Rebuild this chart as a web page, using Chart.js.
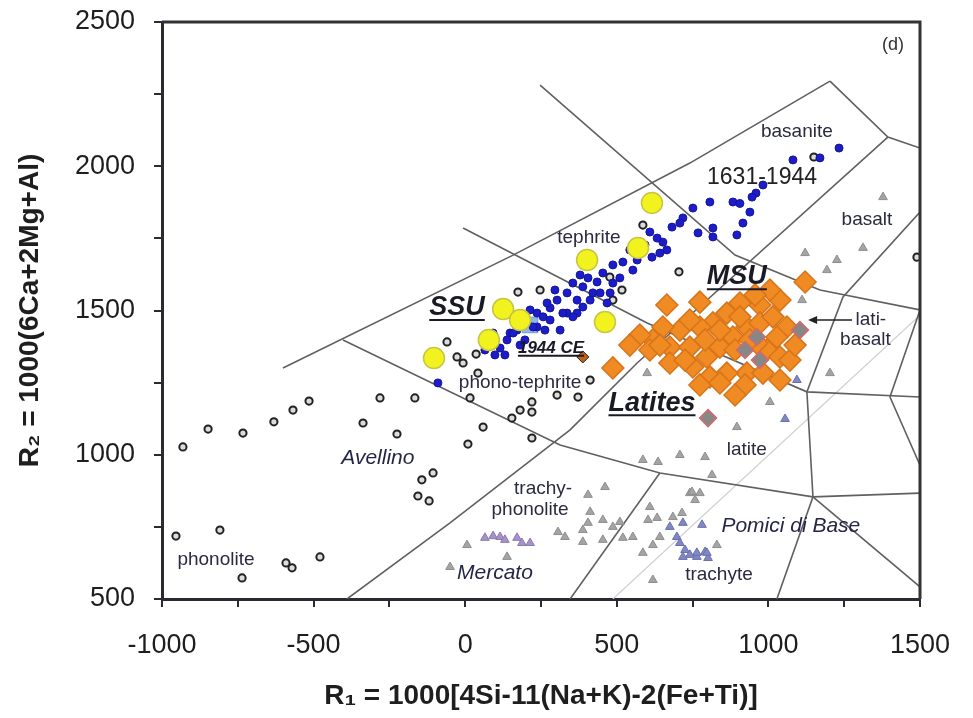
<!DOCTYPE html>
<html>
<head>
<meta charset="utf-8">
<script src="https://cdn.jsdelivr.net/npm/chart.js@4.4.1/dist/chart.umd.min.js"></script>
<style>
  html, body { margin: 0; padding: 0; background: #fff; }
  canvas { display: block; }
</style>
</head>
<body>
<canvas id="chart" width="973" height="718"></canvas>
<script>
// --- field boundaries of the R1-R2 diagram, [R1, R2] vertices ---
const upperBoundary = [[-601, 1301], [158, 1692], [741, 2011], [1203, 2295]];
const topRight = [[1203, 2295], [1394, 2101], [1500, 2063]];
const longDiagonal = [[1394, 2101], [567, 1318], [346, 1086], [-50, 764], [-390, 500]];
const tephriteLine = [[247, 2281], [890, 1692], [1170, 1571], [1500, 1502]];
const phonoTephriteTop = [[-7, 1786], [600, 1457], [1127, 1218], [1500, 1200]];
const phonoTephriteBase = [[-403, 1398], [313, 1034], [642, 937], [1147, 854], [1500, 867]];
const trachyteLeft = [[642, 937], [346, 500]];
const latiteRight = [[1500, 1841], [1246, 1547], [1127, 1218], [1147, 854], [1028, 500]];
const basaltRight = [[1500, 1502], [1401, 1200], [1500, 964]];
const trachyteRight = [[1147, 854], [1500, 542]];
const faintLine = [[487, 500], [1500, 1484]];

// --- samples ---
const openCircles = [
  [-931, 1027], [-848, 1089], [-733, 1075], [-631, 1114], [-568, 1155], [-515, 1186],
  [-281, 1197], [-166, 1197], [-337, 1110], [-225, 1072], [16, 1197], [59, 1096], [9, 1037],
  [-143, 913], [-106, 937], [-156, 857], [-119, 840], [-954, 718], [-809, 739], [-736, 573],
  [-591, 625], [-571, 608], [-479, 646], [-60, 1391], [-27, 1339], [-7, 1318], [36, 1349],
  [42, 1283], [174, 1564], [247, 1571], [154, 1127], [181, 1155], [220, 1183], [220, 1148],
  [220, 1058], [303, 1207], [372, 1200], [412, 1259], [586, 1796], [705, 1634], [1150, 2032],
  [1490, 1685], [477, 1616], [517, 1571], [487, 1536]
];
const blueDots = [
  [1233, 2063], [1081, 2022], [1170, 2029], [982, 1935], [959, 1907], [946, 1893], [807, 1876],
  [883, 1876], [906, 1871], [751, 1855], [939, 1841], [916, 1803], [896, 1762], [817, 1786],
  [817, 1755], [768, 1769], [718, 1821], [708, 1803], [682, 1789], [652, 1737], [665, 1710],
  [633, 1751], [609, 1772], [642, 1699], [616, 1685], [567, 1675], [553, 1640], [520, 1668],
  [487, 1658], [454, 1630], [510, 1613], [487, 1595], [435, 1599], [405, 1613], [388, 1582],
  [421, 1561], [369, 1536], [336, 1561], [303, 1536], [280, 1509], [237, 1491], [280, 1467],
  [336, 1491], [369, 1491], [388, 1512], [445, 1561], [478, 1561], [468, 1526], [237, 1443],
  [204, 1457], [171, 1432], [148, 1422], [138, 1398], [270, 1526], [355, 1595], [322, 1491],
  [355, 1478], [257, 1478], [224, 1443], [158, 1422], [115, 1370], [92, 1422], [-90, 1249],
  [313, 1432], [263, 1432], [412, 1536], [197, 1398], [181, 1380], [98, 1346], [131, 1346],
  [65, 1363], [214, 1502], [296, 1571], [379, 1623], [543, 1710], [593, 1727]
];
const ssuCircles = [
  [616, 1873], [570, 1717], [402, 1675], [125, 1505], [181, 1467], [78, 1398], [461, 1460], [-103, 1335]
];
const ce1944 = [[214, 1450]];
const ce1944Dark = [[388, 1339]];
const msuDiamonds = [
  [665, 1519], [1121, 1599], [1038, 1536], [972, 1519], [906, 1526], [863, 1491], [817, 1457],
  [774, 1443], [708, 1432], [652, 1443], [619, 1398], [609, 1363], [675, 1373], [741, 1373],
  [675, 1318], [751, 1304], [797, 1339], [840, 1373], [883, 1408], [929, 1443], [972, 1457],
  [1015, 1478], [1061, 1443], [1028, 1408], [995, 1363], [1038, 1339], [1071, 1328], [929, 1283],
  [863, 1283], [807, 1270], [840, 1249], [982, 1283], [487, 1301], [906, 1478], [962, 1387],
  [774, 1529], [741, 1467], [840, 1432], [939, 1398], [890, 1363], [791, 1398], [725, 1328],
  [642, 1380], [576, 1415], [543, 1380], [774, 1242], [923, 1242], [890, 1207], [1038, 1259],
  [1088, 1380], [1005, 1571], [956, 1554]
];
const latiteDiamonds = [[1104, 1432], [962, 1408], [972, 1328], [923, 1363], [801, 1127]];
const greyTriangles = [
  [600, 1283], [1005, 1183], [586, 982], [636, 975], [708, 999], [791, 992], [814, 930],
  [461, 888], [405, 861], [741, 867], [774, 867], [758, 843], [412, 802], [405, 764], [454, 774],
  [510, 767], [388, 739], [306, 732], [329, 715], [388, 698], [454, 705], [520, 712], [609, 819],
  [603, 774], [633, 781], [685, 784], [715, 798], [553, 715], [586, 660], [619, 687], [642, 715],
  [830, 687], [619, 566], [1203, 1283], [1378, 1893], [1312, 1717], [1226, 1675], [1193, 1640],
  [1111, 1536], [1121, 1699], [896, 1096], [487, 750], [748, 871], [6, 687], [138, 646], [-50, 611]
];
const pomiciTriangles = [
  [675, 750], [698, 715], [708, 694], [725, 670], [741, 653], [764, 646], [791, 663], [801, 642],
  [718, 764], [781, 757], [797, 660], [718, 646], [764, 660], [1055, 1124], [1094, 1259]
];
const mercatoTriangles = [[65, 712], [92, 718], [115, 715], [131, 705], [171, 712], [187, 694], [214, 694]];

// --- axes ---
const xTicks = [-1000, -500, 0, 500, 1000, 1500];
const yTicks = [500, 1000, 1500, 2000, 2500];

// --- annotations [text, R1, R2, kind] ---
const annotations = [
  ['basanite', 1094, 2119, 'field'],
  ['1631-1944', 979, 1959, 'years'],
  ['tephrite', 408, 1751, 'field'],
  ['basalt', 1325, 1814, 'field'],
  ['MSU', 896, 1616, 'unit'],
  ['SSU', -27, 1509, 'unit'],
  ['1944 CE', 283, 1370, 'unitSmall'],
  ['phono-tephrite', 181, 1249, 'field'],
  ['lati-', 1338, 1467, 'field'],
  ['basalt', 1320, 1398, 'field'],
  ['Latites', 616, 1179, 'unit'],
  ['latite', 929, 1017, 'field'],
  ['Avellino', -288, 989, 'eruption'],
  ['trachy-', 257, 881, 'field'],
  ['phonolite', 214, 809, 'field'],
  ['Pomici di Base', 1074, 753, 'eruption'],
  ['trachyte', 837, 583, 'field'],
  ['Mercato', 98, 590, 'eruption'],
  ['phonolite', -822, 635, 'field'],
  ['(d)', 1411, 2420, 'panel']
];
const latiArrow = [[1276, 1467], [1131, 1467]];

const FONT = "'Liberation Sans', Arial, sans-serif";
const labelStyles = {
  field: { font: `19px ${FONT}`, color: '#2a2a40' },
  years: { font: `23px ${FONT}`, color: '#222' },
  eruption: { font: `italic 21px ${FONT}`, color: '#25254a' },
  unit: { font: `italic bold 27px ${FONT}`, color: '#1a1a26', underline: true },
  unitSmall: { font: `italic bold 17px ${FONT}`, color: '#1a1a26', underline: true },
  panel: { font: `18px ${FONT}`, color: '#333' }
};

const toPts = arr => arr.map(([x, y]) => ({ x, y }));

function boundary(arr, color, width) {
  return {
    data: toPts(arr), showLine: true, borderColor: color, borderWidth: width,
    pointRadius: 0, pointHoverRadius: 0, fill: false, order: 20
  };
}

function markers(arr, style, radius, fill, stroke, width, order) {
  return {
    data: toPts(arr), showLine: false, pointStyle: style, pointRadius: radius,
    backgroundColor: fill, borderColor: stroke, borderWidth: width, order: order
  };
}

const overlay = {
  id: 'overlay',
  afterDatasetsDraw(chart) {
    const { ctx, chartArea, scales: { x, y } } = chart;
    ctx.save();
    // top and right frame
    ctx.strokeStyle = '#333';
    ctx.lineWidth = 3;
    ctx.beginPath();
    ctx.moveTo(chartArea.left, chartArea.top);
    ctx.lineTo(chartArea.right, chartArea.top);
    ctx.lineTo(chartArea.right, chartArea.bottom);
    ctx.stroke();

    ctx.textAlign = 'center';
    ctx.textBaseline = 'middle';
    annotations.forEach(([text, vx, vy, kind]) => {
      const s = labelStyles[kind];
      const px = x.getPixelForValue(vx);
      const py = y.getPixelForValue(vy);
      ctx.font = s.font;
      ctx.fillStyle = s.color;
      ctx.fillText(text, px, py);
      if (s.underline) {
        const w = ctx.measureText(text).width;
        const size = parseInt(s.font.match(/(\d+)px/)[1], 10);
        ctx.strokeStyle = s.color;
        ctx.lineWidth = 2;
        ctx.beginPath();
        ctx.moveTo(px - w / 2, py + size * 0.45);
        ctx.lineTo(px + w / 2, py + size * 0.45);
        ctx.stroke();
      }
    });

    // arrow to lati-basalt
    const ax0 = x.getPixelForValue(latiArrow[0][0]);
    const ax1 = x.getPixelForValue(latiArrow[1][0]);
    const ay = y.getPixelForValue(latiArrow[0][1]);
    ctx.strokeStyle = '#222';
    ctx.fillStyle = '#222';
    ctx.lineWidth = 1.5;
    ctx.beginPath();
    ctx.moveTo(ax0, ay);
    ctx.lineTo(ax1 + 6, ay);
    ctx.stroke();
    ctx.beginPath();
    ctx.moveTo(ax1, ay);
    ctx.lineTo(ax1 + 9, ay - 4);
    ctx.lineTo(ax1 + 9, ay + 4);
    ctx.closePath();
    ctx.fill();
    ctx.restore();
  }
};

const lineColor = '#606060';

new Chart(document.getElementById('chart'), {
  type: 'scatter',
  data: {
    datasets: [
      boundary(upperBoundary, lineColor, 1.6),
      boundary(topRight, lineColor, 1.6),
      boundary(longDiagonal, lineColor, 1.6),
      boundary(tephriteLine, lineColor, 1.6),
      boundary(phonoTephriteTop, lineColor, 1.6),
      boundary(phonoTephriteBase, lineColor, 1.6),
      boundary(trachyteLeft, lineColor, 1.6),
      boundary(latiteRight, lineColor, 1.6),
      boundary(basaltRight, lineColor, 1.6),
      boundary(trachyteRight, lineColor, 1.6),
      boundary(faintLine, '#cfcfcf', 1.2),
      markers(greyTriangles, 'triangle', 5, '#a4a4a4', '#8e8e8e', 1, 9),
      markers(pomiciTriangles, 'triangle', 5, '#8088c4', '#6a70b0', 1, 8),
      markers(mercatoTriangles, 'triangle', 5, '#a592c8', '#8c7ab4', 1, 8),
      markers(openCircles, 'circle', 3.6, '#dcdcdc', '#222', 2, 7),
      markers(ce1944, 'rect', 11, '#8fb6ee', '#6f98d8', 1, 6.5),
      markers(blueDots, 'circle', 4, '#1c1cc8', '#14149a', 1, 6),
      markers(ssuCircles, 'circle', 10.5, '#f2f21e', '#c6c640', 1.5, 4),
      markers(msuDiamonds, 'rectRot', 11, '#f08a22', '#d8741a', 1.5, 3),
      markers(latiteDiamonds, 'rectRot', 8.5, '#878787', '#d46a6a', 1.5, 2),
      markers(ce1944Dark, 'rectRot', 6, '#c06010', '#222', 1, 1)
    ]
  },
  options: {
    responsive: false,
    animation: false,
    events: [],
    layout: { padding: { top: 22, right: 53, left: 0, bottom: 0 } },
    plugins: { legend: { display: false }, tooltip: { enabled: false } },
    scales: {
      x: {
        type: 'linear',
        min: -1000,
        max: 1500,
        afterFit: s => { s.height = 119; },
        border: { color: '#2a2a34', width: 3 },
        grid: { drawOnChartArea: false, drawTicks: true, tickLength: 8, color: '#2a2a34', lineWidth: 2 },
        ticks: {
          stepSize: 250,
          autoSkip: false,
          maxRotation: 0,
          padding: 22,
          color: '#1e1e1e',
          font: { family: FONT, size: 27 },
          callback: v => (xTicks.includes(v) ? String(v) : '')
        },
        title: {
          display: true,
          text: 'R\u2081 = 1000[4Si-11(Na+K)-2(Fe+Ti)]',
          color: '#1e1e1e',
          font: { family: FONT, size: 28, weight: 'bold' },
          padding: { top: 0, bottom: 5 }
        }
      },
      y: {
        type: 'linear',
        min: 500,
        max: 2500,
        afterFit: s => { s.width = 162; s.paddingTop = 0; s.paddingBottom = 0; },
        border: { color: '#2a2a34', width: 3 },
        grid: { drawOnChartArea: false, drawTicks: true, tickLength: 8, color: '#2a2a34', lineWidth: 2 },
        ticks: {
          stepSize: 250,
          autoSkip: false,
          padding: 19,
          color: '#1e1e1e',
          font: { family: FONT, size: 27 },
          callback: v => (yTicks.includes(v) ? String(v) : '')
        },
        title: {
          display: true,
          text: 'R\u2082 = 1000(6Ca+2Mg+Al)',
          color: '#1e1e1e',
          font: { family: FONT, size: 28, weight: 'bold' },
          padding: { top: 13, bottom: 0 }
        }
      }
    }
  },
  plugins: [overlay]
});
</script>
</body>
</html>
